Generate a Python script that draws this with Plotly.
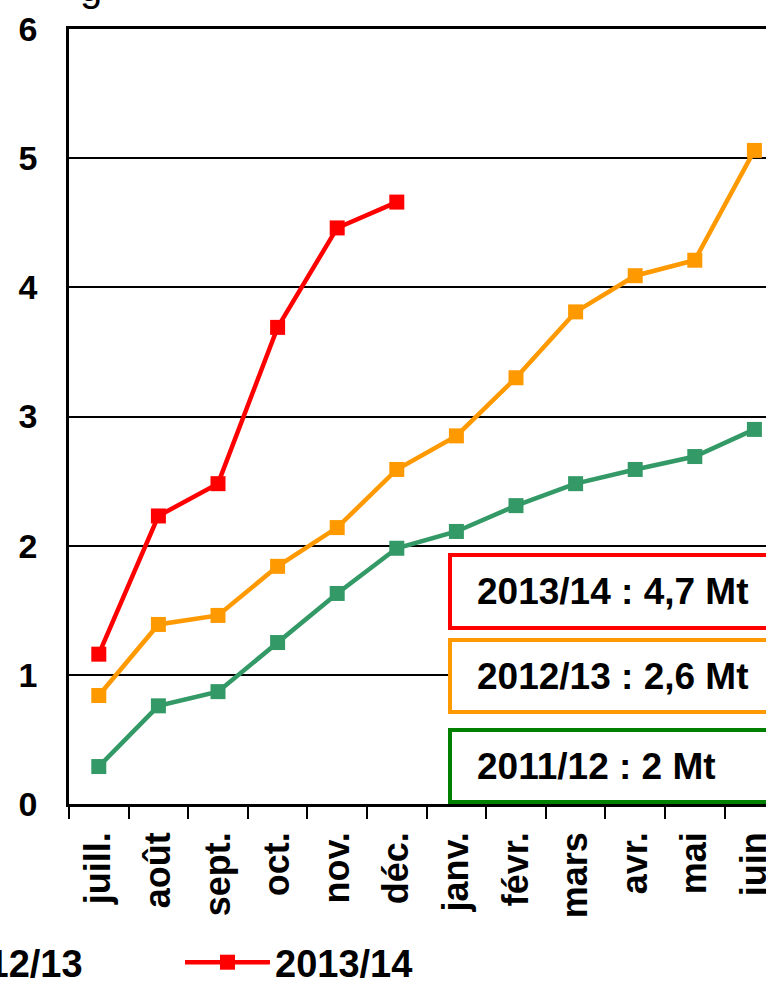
import plotly.graph_objects as go

# Données (Mt cumulées, campagnes juillet-juin)
mois = ["juill.", "août", "sept.", "oct.", "nov.", "déc.",
        "janv.", "févr.", "mars", "avr.", "mai", "juin"]
campagne_1112 = [0.29, 0.76, 0.87, 1.25, 1.63, 1.98, 2.11, 2.31, 2.48, 2.59, 2.69, 2.90]
campagne_1213 = [0.84, 1.39, 1.46, 1.84, 2.14, 2.59, 2.85, 3.30, 3.81, 4.09, 4.21, 5.06]
campagne_1314 = [1.16, 2.23, 2.48, 3.69, 4.46, 4.66]
noms = ["2011/12", "2012/13", "2013/14"]
couleurs = ["#339966", "#FF9900", "#FF0000"]
bilans = ["2011/12 : 2 Mt", "2012/13 : 2,6 Mt", "2013/14 : 4,7 Mt"]
couleurs_cadres = ["#008000", "#FF9900", "#FF0000"]

# Mise en page (pixels)
W, H = 766, 984
G, D, T, B = 69, 0, 29, 804
PAS = 59.6  # largeur d'une catégorie
FONT = "Liberation Sans, Arial, sans-serif"


def px_x(px):
    return (px - G) / (W - G - D)


def px_y(py):
    return (B - py) / (B - T)


fig = go.Figure()
legendes = ["legend", "legend", "legend2"]
for nom, serie, couleur, leg in zip(noms, [campagne_1112, campagne_1213, campagne_1314],
                                    couleurs, legendes):
    fig.add_trace(go.Scatter(
        x=mois[:len(serie)], y=serie, name=nom, mode="lines+markers", legend=leg,
        line=dict(color=couleur, width=4.5),
        marker=dict(symbol="square", size=15, color=couleur)))

# Cadres de bilan
cadres_y = [(730, 802), (640, 712), (555, 628)]
for texte, coul, (y_haut, y_bas) in zip(bilans, couleurs_cadres, cadres_y):
    fig.add_shape(type="rect", xref="paper", yref="paper",
                  x0=px_x(450), x1=1.2, y0=px_y(y_bas), y1=px_y(y_haut),
                  line=dict(color=coul, width=4), fillcolor="white", layer="above")
    fig.add_annotation(xref="paper", yref="paper", x=px_x(475), y=px_y((y_haut + y_bas) / 2),
                       xanchor="left", yanchor="middle", showarrow=False, text=texte,
                       font=dict(family=FONT, size=37, color="black", weight="bold"))

# Reste du titre (coupé en haut)
fig.add_annotation(xref="paper", yref="paper", x=px_x(78), y=px_y(11),
                   xanchor="left", yanchor="bottom", showarrow=False, text="g",
                   font=dict(family=FONT, size=40, color="black"))

leg_font = dict(family=FONT, size=38, color="black", weight="bold")
fig.update_layout(
    width=W, height=H,
    margin=dict(l=G, r=D, t=T, b=H - B, autoexpand=False),
    plot_bgcolor="white", paper_bgcolor="white",
    font=dict(family=FONT, color="black"),
    showlegend=True,
    legend=dict(orientation="h", x=px_x(88), xanchor="right", y=px_y(931), yanchor="top",
                font=leg_font, itemwidth=85, bgcolor="rgba(0,0,0,0)"),
    legend2=dict(orientation="h", x=px_x(180), xanchor="left", y=px_y(931), yanchor="top",
                 font=leg_font, itemwidth=85, bgcolor="rgba(0,0,0,0)"),
)
fig.update_xaxes(
    type="category", categoryorder="array", categoryarray=mois,
    range=[-0.5, -0.5 + (W - G - D) / PAS],
    showline=True, mirror=True, linecolor="black", linewidth=2.5,
    ticks="outside", tickson="boundaries", ticklen=12, tickwidth=2, tickcolor="black",
    tickangle=-90, ticklabelstandoff=11,
    tickfont=dict(family=FONT, size=36, color="black", weight="bold"),
    showgrid=False, zeroline=False)
fig.update_yaxes(
    range=[0, 6], dtick=1,
    showline=True, linecolor="black", linewidth=2.5,
    showgrid=True, gridcolor="black", gridwidth=1.5,
    ticks="", ticklabelstandoff=22,
    tickfont=dict(family=FONT, size=34, color="black", weight="bold"),
    zeroline=False)

fig.write_html("out.html", config={"displayModeBar": False},
               post_script="document.body.style.margin='0';document.body.style.overflow='hidden';")
